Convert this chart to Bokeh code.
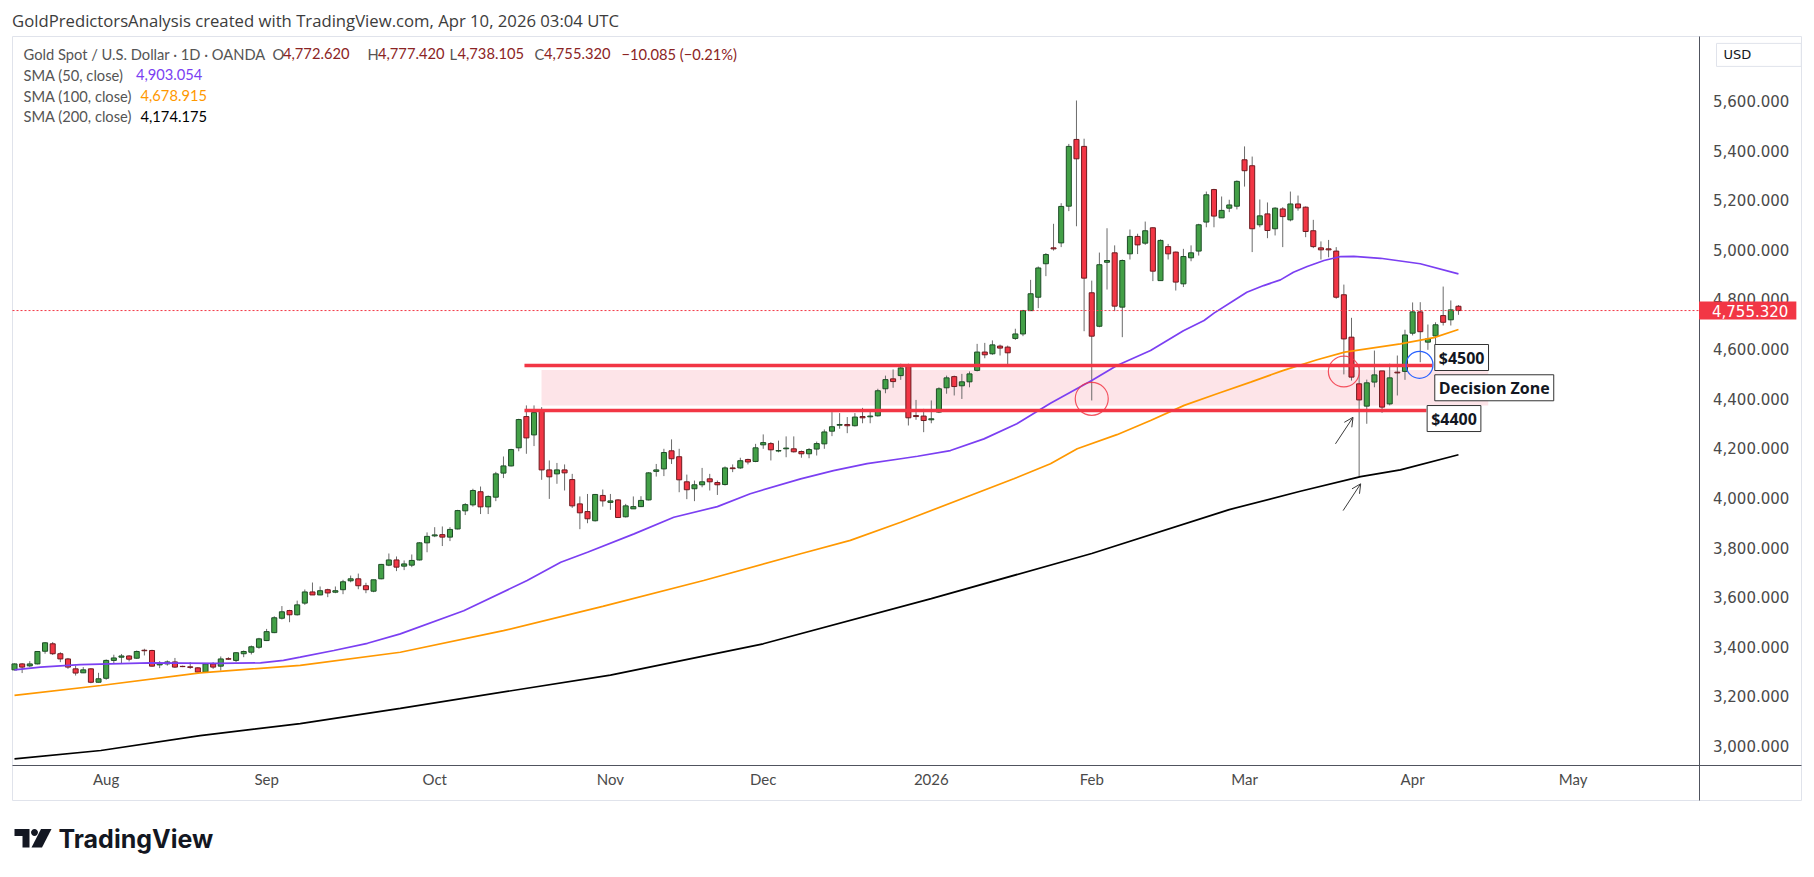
import math
import pandas as pd
from bokeh.plotting import figure
from bokeh.models import (ColumnDataSource, FixedTicker, NumeralTickFormatter, Label,
                          Arrow, OpenHead, PolyAnnotation, Range1d)
from bokeh.embed import file_html
from bokeh.resources import INLINE

# ------------------------------------------------------------------ data
FIRST_DAY = "2025-07-16"
CLOSED_DAYS = ["2025-12-25", "2026-01-01", "2026-04-03"]

opens = [3307, 3331, 3323, 3331, 3382, 3412, 3372, 3351, 3311, 3295,
         3311, 3257, 3273, 3345, 3358, 3363, 3354, 3386, 3385, 3327,
         3331, 3339, 3321, 3319, 3315, 3298, 3331, 3322, 3352, 3345,
         3372, 3378, 3398, 3425, 3457, 3515, 3546, 3529, 3576, 3621,
         3609, 3630, 3620, 3630, 3666, 3674, 3646, 3624, 3674, 3729,
         3750, 3725, 3729, 3750, 3819, 3847, 3852, 3842, 3875, 3948,
         3972, 4025, 3964, 4003, 4100, 4129, 4202, 4328, 4254, 4356,
         4113, 4097, 4113, 4074, 3976, 3945, 3908, 4010, 3982, 3992,
         3924, 3956, 3965, 3992, 4107, 4117, 4190, 4166, 4065, 4037,
         4053, 4077, 4062, 4054, 4121, 4121, 4155, 4147, 4214, 4219,
         4189, 4198, 4198, 4187, 4178, 4197, 4218, 4269, 4293, 4296,
         4291, 4328, 4327, 4331, 4440, 4480, 4493, 4532, 4332, 4330,
         4315, 4346, 4444, 4489, 4452, 4468, 4514, 4588, 4581, 4612,
         4608, 4643, 4661, 4755, 4809, 4944, 5008, 5028, 5176, 5445,
         5417, 4827, 4692, 4950, 4988, 4769, 4984, 5054, 5027, 5089,
         4876, 5013, 4991, 4863, 4968, 4995, 5112, 5243, 5129, 5168,
         5176, 5363, 5339, 5101, 5145, 5085, 5165, 5121, 5185, 5172,
         5077, 5008, 5004, 4995, 4819, 4648, 4460, 4370, 4467, 4512,
         4379, 4507, 4510, 4664, 4750, 4628, 4653, 4735, 4718, 4772.620]

highs = [3333, 3334, 3342, 3383, 3419, 3419, 3378, 3355, 3324, 3318,
         3314, 3295, 3349, 3368, 3371, 3366, 3385, 3392, 3388, 3342,
         3345, 3355, 3324, 3338, 3318, 3334, 3338, 3361, 3358, 3378,
         3385, 3405, 3436, 3472, 3523, 3564, 3549, 3586, 3631, 3659,
         3643, 3634, 3643, 3670, 3687, 3695, 3658, 3670, 3734, 3776,
         3764, 3748, 3772, 3822, 3861, 3882, 3885, 3882, 3952, 3979,
         4037, 4046, 4010, 4105, 4167, 4198, 4319, 4373, 4373, 4366,
         4151, 4141, 4135, 4097, 4006, 4016, 4016, 4034, 4016, 3995,
         3976, 4006, 4007, 4104, 4137, 4198, 4236, 4198, 4094, 4070,
         4121, 4097, 4070, 4127, 4135, 4162, 4158, 4218, 4256, 4225,
         4231, 4248, 4248, 4191, 4201, 4227, 4276, 4346, 4342, 4326,
         4342, 4363, 4348, 4440, 4493, 4518, 4541, 4541, 4395, 4359,
         4393, 4446, 4493, 4493, 4500, 4510, 4621, 4625, 4635, 4618,
         4614, 4682, 4758, 4879, 4933, 4987, 5105, 5188, 5427, 5602,
         5448, 4876, 4989, 5087, 5018, 4961, 5082, 5065, 5114, 5091,
         5042, 5024, 4993, 5004, 5018, 5105, 5235, 5246, 5215, 5202,
         5280, 5417, 5376, 5203, 5191, 5172, 5172, 5235, 5219, 5175,
         5121, 5034, 5040, 5011, 4860, 4726, 4530, 4477, 4594, 4512,
         4541, 4574, 4678, 4788, 4789, 4699, 4708, 4852, 4796, 4777.420]

lows = [3305, 3294, 3318, 3329, 3372, 3367, 3338, 3311, 3284, 3294,
        3253, 3256, 3267, 3331, 3331, 3341, 3351, 3365, 3320, 3314,
        3324, 3315, 3318, 3311, 3296, 3295, 3311, 3304, 3347, 3338,
        3358, 3369, 3392, 3423, 3455, 3510, 3499, 3526, 3569, 3609,
        3608, 3600, 3616, 3612, 3660, 3632, 3616, 3620, 3672, 3725,
        3705, 3709, 3721, 3748, 3781, 3842, 3806, 3826, 3873, 3931,
        3965, 3935, 3935, 3987, 4080, 4127, 4188, 4178, 4209, 4073,
        3996, 4057, 4030, 3960, 3874, 3898, 3905, 3965, 3952, 3920,
        3921, 3956, 3963, 3990, 4086, 4088, 4137, 4023, 3995, 3987,
        4043, 4030, 4012, 4050, 4104, 4117, 4135, 4144, 4198, 4151,
        4184, 4164, 4183, 4162, 4160, 4171, 4198, 4249, 4279, 4261,
        4288, 4301, 4301, 4328, 4422, 4444, 4476, 4292, 4315, 4265,
        4301, 4342, 4420, 4413, 4399, 4446, 4510, 4563, 4577, 4574,
        4534, 4637, 4652, 4755, 4765, 4894, 4997, 5011, 5156, 5095,
        4672, 4393, 4688, 4840, 4753, 4648, 4961, 4983, 5020, 4874,
        4876, 4961, 4836, 4850, 4954, 4977, 5091, 5091, 5129, 5152,
        5163, 5255, 4991, 5091, 5047, 5058, 5011, 5115, 5158, 5051,
        5007, 4961, 4970, 4803, 4498, 4473, 4086, 4299, 4446, 4343,
        4373, 4413, 4476, 4655, 4547, 4597, 4597, 4695, 4695, 4738.105]

closes = [3331, 3318, 3331, 3381, 3416, 3372, 3351, 3318, 3294, 3307,
          3257, 3271, 3345, 3355, 3363, 3350, 3381, 3384, 3322, 3333,
          3339, 3318, 3320, 3317, 3298, 3331, 3318, 3351, 3350, 3376,
          3381, 3400, 3432, 3461, 3517, 3541, 3529, 3569, 3621, 3609,
          3626, 3617, 3626, 3662, 3674, 3646, 3630, 3670, 3732, 3750,
          3721, 3734, 3748, 3819, 3845, 3851, 3842, 3873, 3949, 3973,
          4030, 3964, 4006, 4097, 4129, 4195, 4316, 4242, 4344, 4113,
          4085, 4113, 4101, 3968, 3940, 3916, 4014, 3988, 3988, 3921,
          3968, 3965, 3990, 4101, 4113, 4183, 4158, 4073, 4033, 4053,
          4065, 4065, 4053, 4121, 4118, 4150, 4145, 4202, 4223, 4194,
          4191, 4201, 4186, 4178, 4195, 4219, 4266, 4287, 4296, 4291,
          4326, 4323, 4330, 4432, 4477, 4469, 4524, 4323, 4328, 4312,
          4319, 4440, 4484, 4449, 4468, 4500, 4588, 4577, 4617, 4604,
          4585, 4661, 4755, 4823, 4927, 4981, 5004, 5175, 5417, 5367,
          4886, 4652, 4940, 4957, 4773, 4957, 5054, 5020, 5077, 4914,
          5038, 4984, 4870, 4973, 4988, 5101, 5222, 5136, 5159, 5181,
          5276, 5319, 5085, 5137, 5078, 5168, 5134, 5185, 5169, 5074,
          5013, 5000, 5000, 4809, 4641, 4487, 4395, 4464, 4496, 4366,
          4484, 4504, 4657, 4750, 4670, 4641, 4698, 4708, 4758, 4755.320]

# moving averages (bar position, price)
sma50_bars = [0, 3.4, 8.6, 17.8, 26.5, 32.2, 35.2, 37.4, 41.8, 46.2, 50.5, 58.8, 67.1, 71.5,
              75.0, 81.1, 86.3, 92.0, 96.3, 102.9, 107.2, 111.6, 116.0, 118.2, 122.5, 126.9,
              131.2, 135.6, 141.0, 144.3, 148.7, 153.0, 155.7, 157.0, 159.6, 161.3, 163.5,
              165.7, 167.4, 169.2, 171.4, 173.6, 175.3, 178.8, 184.0, 189]
sma50_vals = [3307, 3318, 3328, 3335, 3333, 3335, 3345, 3358, 3385, 3414, 3452, 3545, 3667,
              3741, 3781, 3855, 3922, 3965, 4017, 4077, 4110, 4138, 4158, 4168, 4191, 4238,
              4299, 4382, 4473, 4534, 4594, 4674, 4715, 4745, 4796, 4829, 4856, 4879, 4910,
              4933, 4957, 4973, 4974, 4966, 4944, 4903.054]
sma100_bars = [0, 11.3, 24.3, 37.4, 50.5, 64, 77, 90.2, 102.9, 109.4, 116.0, 130.8, 135.6,
               139.1, 144.3, 148.7, 153.1, 157.4, 161.8, 166.1, 170.5, 174.1, 181.4, 185.8,
               189]
sma100_vals = [3204, 3244, 3295, 3325, 3378, 3465, 3563, 3667, 3775, 3829, 3902, 4077, 4138,
               4198, 4255, 4312, 4373, 4420, 4467, 4514, 4557, 4588, 4621, 4646, 4678.915]
sma200_bars = [0, 11.3, 24.3, 37.4, 50.5, 78, 98, 120, 141, 159, 168.3, 176.2, 181.4, 189]
sma200_vals = [2948, 2982, 3042, 3090, 3152, 3286, 3412, 3594, 3776, 3953, 4027, 4086, 4113,
               4174.175]

price_ticks = [3000, 3200, 3400, 3600, 3800, 4000, 4200, 4400, 4600, 4800, 5000, 5200,
               5400, 5600]

symbol_text = "Gold Spot / U.S. Dollar \u00b7 1D \u00b7 OANDA"
day_change = -10.085
day_change_pct = -0.21

# drawn annotations (prices and bar positions)
zone_lines = [4534, 4352]
zone_line_from = 66.75
zone_line_to = [185.6, 184.8]
zone_fill = (68.98, 192.9, 4373, 4516)          # left bar, right bar, bottom, top
red_circles = ([141.0, 174.0], [4399.6, 4509.6])
blue_circle = ([183.9], [4536.6])
arrows = [(172.9, 4218, 175.2, 4325), (173.9, 3949, 176.2, 4057)]
notes = [(185.9, 4566, "$4500"), (185.9, 4444, "Decision Zone"), (184.9, 4320, "$4400")]

# ------------------------------------------------------------------ geometry
W, H = 1814, 877
PL, PR, PT, PB = 12, 1801, 36, 800          # chart panel edges (page px)
BAR0_PX, BAR_PX = 14.0, 7.64                # first bar centre, bar spacing
REF_PRICE, REF_PX, PX_PER_USD = 5600.0, 100.5, 0.24808
AXIS_PX, TIME_AXIS_PX = 1698.5, 765.0


def bar_at(px):
    return (px - BAR0_PX) / BAR_PX


def price_at(py):
    return REF_PRICE - (py - REF_PX) / PX_PER_USD


AXIS_BAR = bar_at(AXIS_PX)

UP_FILL, UP_LINE = "#43a047", "#1d4d26"
DN_FILL, DN_LINE = "#f23645", "#6e1a1f"
RED = "#f23645"
TXT = "#131722"
GREY = "#4a4a4a"
UIFONT = "Lato"

p = figure(width=W, height=H, output_backend="svg", toolbar_location=None,
           x_range=Range1d(bar_at(0), bar_at(W)),
           y_range=Range1d(price_at(H), price_at(0)),
           y_axis_location="right", x_axis_location="below",
           min_border_left=0, min_border_right=0, min_border_top=0, min_border_bottom=0,
           background_fill_color="white", border_fill_color="white",
           outline_line_color=None)
p.grid.visible = False

# panel border
p.quad(left=[bar_at(PL)], right=[bar_at(PR)], bottom=[price_at(PB)], top=[price_at(PT)],
       fill_color=None, line_color="#e0e3eb", line_width=1)

# axes ---------------------------------------------------------------
ya = p.yaxis[0]
ya.fixed_location = AXIS_BAR
ya.bounds = (price_at(PB), price_at(PT))
ya.ticker = FixedTicker(ticks=price_ticks)
ya.formatter = NumeralTickFormatter(format="0,0.000")
ya.major_tick_line_color = None
ya.minor_tick_line_color = None
ya.major_tick_out = 0
ya.major_tick_in = 0
ya.major_label_standoff = 14
ya.major_label_text_font = "DejaVu Sans"
ya.major_label_text_font_size = "15px"
ya.major_label_text_color = GREY
ya.axis_line_color = "#50535e"

n = len(closes)
days = pd.bdate_range(FIRST_DAY, periods=n + 80)
days = days[~days.isin(pd.to_datetime(CLOSED_DAYS))]
month_ticks, month_labels = [], {}
for i in range(1, len(days)):
    if days[i].month != days[i - 1].month and i <= AXIS_BAR:
        month_ticks.append(i)
        month_labels[i] = str(days[i].year) if days[i].month == 1 else days[i].strftime("%b")

xa = p.xaxis[0]
xa.fixed_location = price_at(TIME_AXIS_PX)
xa.bounds = (bar_at(PL), bar_at(PR))
xa.ticker = FixedTicker(ticks=month_ticks)
xa.major_label_overrides = month_labels
xa.major_tick_line_color = None
xa.minor_tick_line_color = None
xa.major_tick_out = 0
xa.major_tick_in = 0
xa.major_label_standoff = 4
xa.major_label_text_font = UIFONT
xa.major_label_text_font_size = "15px"
xa.major_label_text_color = GREY
xa.axis_line_color = "#50535e"

# zone fill ------------------------------------------------------------
zl, zr, zb, zt = zone_fill
p.quad(left=[zl], right=[zr], bottom=[zb], top=[zt], fill_color="#fde4e8",
       line_color=None)

# candles --------------------------------------------------------------
up = [c >= o for o, c in zip(opens, closes)]
src = ColumnDataSource(dict(
    x=list(range(n)), high=highs, low=lows,
    top=[max(o, c) for o, c in zip(opens, closes)],
    bottom=[min(o, c) for o, c in zip(opens, closes)],
    fill=[UP_FILL if u else DN_FILL for u in up],
    line=[UP_LINE if u else DN_LINE for u in up]))
p.segment(x0="x", y0="low", x1="x", y1="high", source=src, line_color="#6b6b6b",
          line_width=1)
p.vbar(x="x", top="top", bottom="bottom", width=0.66, fill_color="fill",
       line_color="line", line_width=1, source=src)

# moving averages --------------------------------------------------------
p.line(sma200_bars, sma200_vals, line_color="#000000", line_width=1.7)
p.line(sma100_bars, sma100_vals, line_color="#ff9800", line_width=1.7)
p.line(sma50_bars, sma50_vals, line_color="#7b3ff2", line_width=1.7)

# last price line --------------------------------------------------------
p.segment(x0=[bar_at(PL)], x1=[AXIS_BAR], y0=[closes[-1]], y1=[closes[-1]],
          line_color=RED, line_width=1, line_dash="2 2")

# zone lines, circles, arrows ---------------------------------------------
p.segment(x0=[zone_line_from] * 2, x1=zone_line_to, y0=zone_lines, y1=zone_lines,
          line_color=RED, line_width=3.5)
p.scatter(x=red_circles[0], y=red_circles[1], size=[33, 31], marker="circle",
          fill_color=None, line_color=RED, line_width=1.2, line_alpha=0.85)
p.scatter(x=blue_circle[0], y=blue_circle[1], size=[27], marker="circle",
          fill_color=None, line_color="#2962ff", line_width=1.2)
for x0, y0, x1, y1 in arrows:
    p.add_layout(Arrow(x_start=x0, y_start=y0, x_end=x1, y_end=y1,
                       line_color="#3a3a3a", line_width=1,
                       end=OpenHead(size=9, line_color="#3a3a3a", line_width=1)))

for nx, ny, ntext in notes:
    p.add_layout(Label(x=nx, y=ny, text=ntext, text_font="Open Sans",
                       text_font_style="bold", text_font_size="16px", text_color=TXT,
                       text_baseline="middle", text_align="left",
                       background_fill_color="white", border_line_color="#333333",
                       border_line_width=1, padding=dict(left=4, right=4, top=2, bottom=2)))

# price label on the axis --------------------------------------------------
p.add_layout(Label(x=AXIS_BAR, y=closes[-1], text=f"{closes[-1]:,.3f}",
                   text_font="DejaVu Sans", text_font_size="15px", text_color="white",
                   text_baseline="middle", text_align="left",
                   background_fill_color=RED,
                   padding=dict(left=13, right=8, top=3, bottom=3)))


# page texts (screen units measured from the page's bottom-left) --------------
def page_text(px, py, text, color, size="14.7px", font=UIFONT, style="normal", **kw):
    lab = Label(x=px, y=H - py, x_units="screen", y_units="screen", text=text,
                text_color=color, text_font_size=size, text_font=font,
                text_font_style=style, text_baseline="middle", text_align="left", **kw)
    p.add_layout(lab)


page_text(11.6, 19.7,
          "GoldPredictorsAnalysis created with TradingView.com, Apr 10, 2026 03:04 UTC",
          "#3c3c3c", size="16.7px", font="Open Sans")
page_text(23, 53.2, symbol_text, "#555555")
VAL = "#8b2424"
for letter, lx, vdx, val in (("O", 272, 10.5, opens[-1]), ("H", 367, 10.5, highs[-1]),
                             ("L", 449, 8.0, lows[-1]), ("C", 534, 9.5, closes[-1])):
    page_text(lx, 53.2, letter, "#555555")
    page_text(lx + vdx, 53.2, f"{val:,.3f}", VAL)
page_text(621, 53.2, f"\u2212{abs(day_change):.3f} (\u2212{abs(day_change_pct):.2f}%)", VAL)

for row_y, period, val, color, vx in ((74.0, 50, sma50_vals[-1], "#7b3ff2", 135.4),
                                      (95.0, 100, sma100_vals[-1], "#ff9800", 140.0),
                                      (115.7, 200, sma200_vals[-1], "#000000", 140.0)):
    page_text(23, row_y, f"SMA ({period}, close)", "#555555")
    page_text(vx, row_y, f"{val:,.3f}", color)

page_text(1716, 54.4, "USD", TXT, size="13px", font="DejaVu Sans",
          border_line_color="#e0e3eb", border_line_width=1,
          padding=dict(left=7, right=50, top=4, bottom=4))

# TradingView logo
page_text(58, 838, "TradingView", TXT, size="25px", font="Inter", style="bold")
logo_T = ([14, 29, 29, 22, 22, 14], [828.5, 828.5, 847, 847, 835.5, 835.5])
logo_slash = ([40.5, 51, 41.5, 31], [828.5, 828.5, 847, 847])
dot_c, dot_r = (34.0, 832.0), 3.4
logo_dot = ([dot_c[0] + dot_r * math.cos(k * math.pi / 8) for k in range(16)],
            [dot_c[1] + dot_r * math.sin(k * math.pi / 8) for k in range(16)])
for xs, ys in (logo_T, logo_slash, logo_dot):
    p.add_layout(PolyAnnotation(xs=list(xs), ys=[H - y for y in ys],
                                xs_units="screen", ys_units="screen",
                                fill_color=TXT, fill_alpha=1, line_color=None))

open("out.html", "w").write(file_html(p, INLINE))
